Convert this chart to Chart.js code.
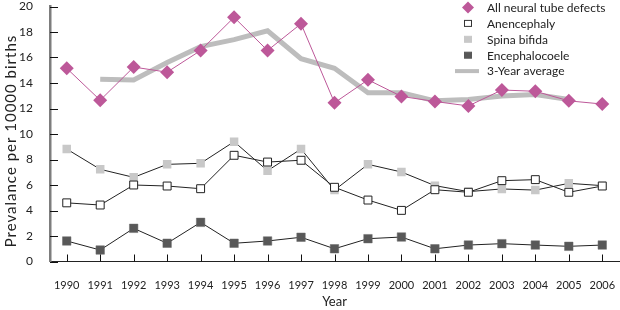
<!DOCTYPE html>
<html>
<head>
<meta charset="utf-8">
<script src="https://cdn.jsdelivr.net/npm/chart.js@4.4.1/dist/chart.umd.min.js"></script>
<style>
  html, body { margin: 0; padding: 0; background: #fff; }
  #wrap { width: 620px; height: 310px; position: relative; }
</style>
</head>
<body>
<div id="wrap"><canvas id="chart"></canvas></div>
<script>
const years = ["1990", "1991", "1992", "1993", "1994", "1995", "1996", "1997", "1998",
  "1999", "2000", "2001", "2002", "2003", "2004", "2005", "2006"];

const allNtd = [15.15, 12.65, 15.25, 14.85, 16.55, 19.15, 16.55, 18.65, 12.45,
  14.25, 12.95, 12.55, 12.2, 13.45, 13.35, 12.6, 12.35];
const anencephaly = [4.6, 4.43, 6.0, 5.92, 5.71, 8.33, 7.8, 7.94, 5.82,
  4.82, 4.01, 5.63, 5.43, 6.34, 6.42, 5.43, 5.92];
const spinaBifida = [8.82, 7.23, 6.6, 7.62, 7.7, 9.4, 7.12, 8.82, 5.6,
  7.62, 7.02, 5.95, 5.48, 5.69, 5.6, 6.13, 5.95];
const encephalocoele = [1.61, 0.9, 2.6, 1.43, 3.07, 1.43, 1.61, 1.9, 1.0,
  1.79, 1.92, 1.0, 1.29, 1.4, 1.29, 1.19, 1.29];
const threeYearAvg = [null, 14.3, 14.24, 15.6, 16.85, 17.4, 18.1, 15.9, 15.15,
  13.24, 13.24, 12.6, 12.7, 12.98, 13.1, 12.7, null];

const yTicks = [0, 2, 4, 6, 8, 10, 12, 14, 16, 18, 20];

const FONT = "Lato, 'Noto Sans', sans-serif";
const MAGENTA = "#bd5899";

// legend entries (drawn by hand, top right)
const legendItems = [
  { label: "All neural tube defects", kind: "diamond", fill: MAGENTA, stroke: MAGENTA },
  { label: "Anencephaly", kind: "square", fill: "#ffffff", stroke: "#333333" },
  { label: "Spina bifida", kind: "square", fill: "#c8c8c8", stroke: "#c8c8c8" },
  { label: "Encephalocoele", kind: "square", fill: "#585858", stroke: "#585858" },
  { label: "3-Year average", kind: "line", fill: "#bdbdbd", stroke: "#bdbdbd" }
];

const extras = {
  id: "extras",
  afterDraw(chart) {
    const ctx = chart.ctx;
    const x = chart.scales.x, y = chart.scales.y;
    const area = chart.chartArea;
    ctx.save();
    // inward tick marks
    ctx.strokeStyle = "#111";
    ctx.lineWidth = 1;
    yTicks.forEach(v => {
      const py = Math.round(y.getPixelForValue(v)) + 0.5;
      ctx.beginPath();
      ctx.moveTo(area.left, py);
      ctx.lineTo(area.left + 8, py);
      ctx.stroke();
    });
    years.forEach((yr, i) => {
      const px = Math.round(x.getPixelForValue(i)) + 0.5;
      ctx.beginPath();
      ctx.moveTo(px, area.bottom);
      ctx.lineTo(px, area.bottom - 7);
      ctx.stroke();
    });

    // y axis title
    ctx.fillStyle = "#222";
    ctx.font = "15px " + FONT;
    ctx.letterSpacing = "1px";
    ctx.textAlign = "center";
    ctx.textBaseline = "middle";
    ctx.save();
    ctx.translate(11, 141);
    ctx.rotate(-Math.PI / 2);
    ctx.fillText("Prevalance per 10000 births", 0, 0);
    ctx.restore();
    ctx.letterSpacing = "0px";

    // legend
    ctx.font = "12px " + FONT;
    ctx.textAlign = "left";
    legendItems.forEach((it, i) => {
      const cy = 7.5 + i * 15.9;
      const cx = 468;
      ctx.fillStyle = it.fill;
      ctx.strokeStyle = it.stroke;
      if (it.kind === "diamond") {
        ctx.beginPath();
        ctx.moveTo(cx, cy - 6);
        ctx.lineTo(cx + 6, cy);
        ctx.lineTo(cx, cy + 6);
        ctx.lineTo(cx - 6, cy);
        ctx.closePath();
        ctx.fill();
      } else if (it.kind === "square") {
        ctx.fillRect(cx - 3.5, cy - 3, 7, 6);
        ctx.lineWidth = 1;
        ctx.strokeRect(cx - 3.5, cy - 3, 7, 6);
      } else {
        ctx.fillRect(cx - 13, cy - 2, 24, 4);
      }
      ctx.fillStyle = "#222";
      ctx.fillText(it.label, 487, cy + 0.5);
    });
    ctx.restore();
  }
};

new Chart(document.getElementById("chart"), {
  type: "line",
  data: {
    labels: years,
    datasets: [
      {
        label: "All neural tube defects",
        data: allNtd,
        borderColor: MAGENTA,
        backgroundColor: MAGENTA,
        borderWidth: 1,
        pointStyle: "rectRot",
        pointRadius: 7,
        pointBorderWidth: 0
      },
      {
        label: "3-Year average",
        data: threeYearAvg,
        borderColor: "#bdbdbd",
        borderWidth: 5,
        pointRadius: 0,
        spanGaps: false
      },
      {
        label: "Anencephaly",
        data: anencephaly,
        borderColor: "#222",
        borderWidth: 1,
        pointStyle: "rect",
        pointRadius: 5.6,
        pointBackgroundColor: "#fff",
        pointBorderColor: "#222",
        pointBorderWidth: 1
      },
      {
        label: "Spina bifida",
        data: spinaBifida,
        borderColor: "#222",
        borderWidth: 1,
        pointStyle: "rect",
        pointRadius: 6,
        pointBackgroundColor: "#c8c8c8",
        pointBorderColor: "#c8c8c8",
        pointBorderWidth: 0
      },
      {
        label: "Encephalocoele",
        data: encephalocoele,
        borderColor: "#222",
        borderWidth: 1,
        pointStyle: "rect",
        pointRadius: 6,
        pointBackgroundColor: "#585858",
        pointBorderColor: "#6a6a6a",
        pointBorderWidth: 0.5
      }
    ]
  },
  options: {
    responsive: true,
    maintainAspectRatio: false,
    animation: false,
    layout: { autoPadding: false, padding: { top: 6.5, right: 1, left: 0, bottom: 0 } },
    plugins: {
      legend: { display: false },
      tooltip: { enabled: false }
    },
    scales: {
      x: {
        offset: true,
        afterFit: s => { s.height = 48.5; s.paddingLeft = 0; s.paddingRight = 0; },
        grid: { display: false },
        border: { color: "#222", width: 1 },
        ticks: { color: "#222", font: { family: FONT, size: 11 }, padding: 9, maxRotation: 0, autoSkip: false },
        title: { display: true, text: "Year", color: "#222", font: { family: FONT, size: 13 }, padding: { top: 0, bottom: 0 } }
      },
      y: {
        min: 0,
        max: 20,
        afterFit: s => { s.width = 50; s.paddingTop = 0; s.paddingBottom = 0; },
        grid: { display: false },
        border: { color: "#7d7d7d", width: 2.5 },
        ticks: { stepSize: 2, color: "#222", font: { family: FONT, size: 12 }, padding: 9 }
      }
    }
  },
  plugins: [extras]
});
</script>
</body>
</html>
